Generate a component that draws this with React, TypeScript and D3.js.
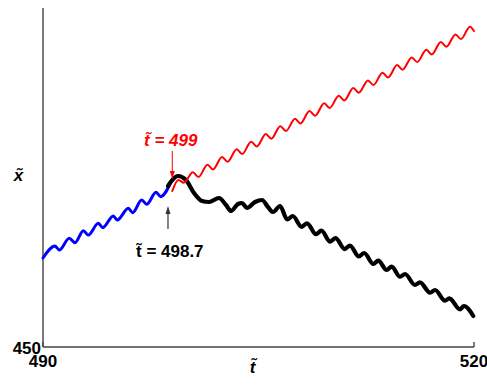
import React from 'react';
import * as d3 from 'd3';

const W = 487;
const H = 385;

// axis extents and labelled ticks
const tDomain: [number, number] = [490, 520];
const xDomain: [number, number] = [450, 483.9];
const tTickValues = [490, 520];
const xTickValues = [450];

// blue trajectory, before the switch (extrema of the oscillation)
const blueT = [490.0, 490.84, 491.13, 491.83, 492.23, 492.81, 493.15, 493.85, 494.16, 494.89, 495.17, 495.94, 496.24, 496.87, 497.22, 497.87, 498.19, 498.84];
const blueX = [458.9, 460.1, 459.7, 460.87, 460.43, 461.63, 461.2, 462.37, 461.93, 463.1, 462.7, 463.87, 463.43, 464.7, 464.27, 465.47, 465.03, 466.3];

// red trajectory, continuing after t = 499
const redT = [499.0, 499.42, 499.8, 500.43, 500.82, 501.45, 501.83, 502.46, 502.85, 503.48, 503.86, 504.49, 504.88, 505.51, 505.89, 506.52, 506.91, 507.54, 507.92, 508.55, 508.94, 509.57, 509.95, 510.59, 510.97, 511.6, 511.98, 512.62, 513.0, 513.63, 514.02, 514.65, 515.03, 515.66, 516.05, 516.68, 517.06, 517.69, 518.08, 518.71, 519.09, 519.72, 520.0];
const redX = [465.6, 466.7, 466.43, 467.47, 467.0, 468.23, 467.76, 469.0, 468.53, 469.77, 469.3, 470.53, 470.06, 471.3, 470.83, 472.07, 471.6, 472.83, 472.36, 473.6, 473.13, 474.37, 473.9, 475.13, 474.66, 475.9, 475.43, 476.66, 476.19, 477.43, 476.96, 478.2, 477.73, 478.96, 478.49, 479.73, 479.26, 480.5, 480.03, 481.26, 480.79, 482.03, 481.6];

// black trajectory, starting at t = 498.7
const blackT = [498.7, 499.4, 499.95, 500.51, 501.07, 501.55, 502.25, 502.74, 503.09, 503.57, 503.85, 504.2, 504.76, 505.24, 505.66, 506.01, 506.5, 507.0, 507.39, 508.0, 508.38, 509.0, 509.38, 509.99, 510.37, 510.99, 511.37, 511.98, 512.36, 512.99, 513.34, 513.92, 514.27, 514.85, 515.2, 515.89, 516.24, 516.94, 517.29, 517.98, 518.28, 519.03, 519.3, 519.95];
const blackX = [466.1, 467.1, 466.7, 465.4, 464.6, 464.5, 464.9, 464.2, 463.6, 464.3, 464.4, 463.9, 464.5, 464.7, 464.0, 463.5, 464.1, 462.76, 463.1, 462.02, 462.37, 461.28, 461.63, 460.54, 460.89, 459.79, 460.14, 459.05, 459.4, 458.3, 458.63, 457.7, 458.03, 457.03, 457.3, 456.2, 456.47, 455.43, 455.7, 454.63, 454.87, 453.77, 454.1, 453.1];

// annotated instants
const blackStartT = 498.7;
const redStartT = 499;

const FONT = '"Liberation Sans", Arial, sans-serif';
const TILDE = '\u0303';

export default function App() {
  const sx = d3.scaleLinear().domain(tDomain).range([43, 474]);
  const sy = d3.scaleLinear().domain(xDomain).range([347, 8]);

  const line = d3
    .line<[number, number]>()
    .x((d) => sx(d[0]))
    .y((d) => sy(d[1]))
    .curve(d3.curveMonotoneX);

  const pts = (ts: number[], xs: number[]) => ts.map((t, i) => [t, xs[i]] as [number, number]);

  const x0 = sx(tDomain[0]);
  const x1 = sx(tDomain[1]);
  const y0 = sy(xDomain[0]);
  const y1 = sy(xDomain[1]);

  const bx = sx(blackStartT);
  const rx = sx(redStartT);

  return (
    <svg
      width={W}
      height={H}
      style={{ position: 'absolute', left: 0, top: 0, background: '#fff' }}
      fontFamily={FONT}
    >
      {/* axes */}
      <g stroke="#444" strokeWidth={1.4} fill="none">
        <line x1={x0} y1={y1} x2={x0} y2={y0} />
        <line x1={x0} y1={y0} x2={x1} y2={y0} />
        {tTickValues.map((t) => (
          <line key={t} x1={sx(t)} x2={sx(t)} y1={y0} y2={y0 - 5} />
        ))}
      </g>
      <g fontWeight="bold" fontSize={17} fill="#000">
        {tTickValues.map((t) => (
          <text key={t} x={sx(t)} y={y0 + 20} textAnchor="middle">
            {t}
          </text>
        ))}
        {xTickValues.map((v) => (
          <text key={v} x={x0 - 2} y={sy(v) + 6.5} textAnchor="end">
            {v}
          </text>
        ))}
      </g>

      {/* axis titles */}
      <g fontWeight="bold" fontSize={17} fontStyle="italic" fill="#000" textAnchor="middle">
        <text x={252.5} y={372.5}>{'t' + TILDE}</text>
        <text x={18.5} y={180.5}>{'x' + TILDE}</text>
      </g>

      {/* trajectories */}
      <path d={line(pts(blueT, blueX)) || ''} fill="none" stroke="#0000ff" strokeWidth={3} strokeLinejoin="round" strokeLinecap="round" />
      <path d={line(pts(blackT, blackX)) || ''} fill="none" stroke="#000" strokeWidth={4.2} strokeLinejoin="round" strokeLinecap="round" />
      <path d={line(pts(redT, redX)) || ''} fill="none" stroke="#ff0000" strokeWidth={2} strokeLinejoin="round" strokeLinecap="round" />

      {/* annotation: red switch instant */}
      <line x1={rx} x2={rx} y1={151} y2={172} stroke="#ff0000" strokeWidth={1} />
      <path d={`M${rx - 2.5},${171} L${rx + 2.5},${171} L${rx},${179} Z`} fill="#ff0000" />
      <text x={144} y={146} fill="#ff0000" fontWeight="bold" fontSize={17} fontStyle="italic">
        {'t' + TILDE + ' = 499'}
      </text>

      {/* annotation: black start instant */}
      <line x1={bx} x2={bx} y1={229} y2={213} stroke="#333" strokeWidth={1.2} />
      <path d={`M${bx - 2.5},${214} L${bx + 2.5},${214} L${bx},${206} Z`} fill="#333" />
      <text x={136} y={257} fill="#000" fontWeight="bold" fontSize={17}>
        {'t' + TILDE + ' = 498.7'}
      </text>
    </svg>
  );
}
